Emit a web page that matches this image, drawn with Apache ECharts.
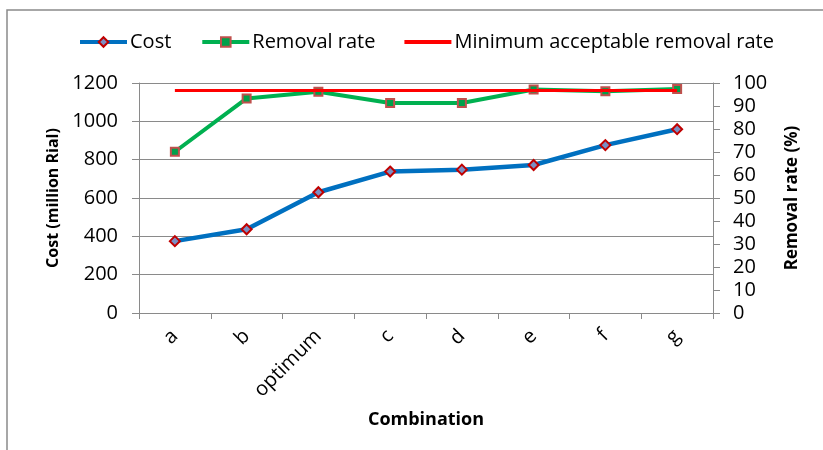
<!DOCTYPE html>
<html>
<head>
<meta charset="utf-8">
<script src="https://cdn.jsdelivr.net/npm/echarts@6/dist/echarts.min.js"></script>
<style>
  html, body { margin: 0; padding: 0; background: #fff; }
  #chart { width: 823px; height: 450px; }
</style>
</head>
<body>
<div id="chart"></div>
<script>
// Treatment combinations on the horizontal axis
const combinations = ['a', 'b', 'optimum', 'c', 'd', 'e', 'f', 'g'];
// Cost of each combination (million Rial)
const costValues = [375, 437, 630, 738, 748, 772, 876, 959];
// Achieved removal rate (%)
const removalValues = [70.1, 93.3, 96.2, 91.3, 91.3, 97.2, 96.4, 97.4];
// Minimum acceptable removal rate (%)
const minimumRate = [96.7, 96.7, 96.7, 96.7, 96.7, 96.7, 96.7, 96.7];
// Axis tick settings
const costAxis = { min: 0, max: 1200, interval: 200 };
const rateAxis = { min: 0, max: 100, interval: 10 };

const FONT = 'Open Sans';
const GRAY = '#8a8a8a';

const chart = echarts.init(document.getElementById('chart'), null, { renderer: 'canvas' });

chart.setOption({
  backgroundColor: '#ffffff',
  animation: false,
  textStyle: { fontFamily: FONT, color: '#000' },
  graphic: [{
    type: 'rect',
    shape: { x: 7, y: 10, width: 900, height: 500 },
    style: { fill: 'none', stroke: GRAY, lineWidth: 1.5 },
    silent: true
  }],
  legend: {
    left: 73,
    top: 27,
    itemWidth: 47,
    itemHeight: 12,
    itemGap: 29,
    lineStyle: { width: 4 },
    textStyle: { fontFamily: FONT, fontSize: 20, color: '#000', padding: [0, 0, 0, -2] },
    data: [
      'Cost',
      'Removal rate',
      { name: 'Minimum acceptable removal rate', icon: 'path://M0 0H47V4H0Z' }
    ]
  },
  grid: { left: 139, right: 110, top: 83, bottom: 137 },
  xAxis: {
    type: 'category',
    data: combinations,
    boundaryGap: true,
    name: 'Combination',
    nameLocation: 'middle',
    nameGap: 98,
    nameTextStyle: { fontFamily: FONT, fontSize: 18, fontWeight: 'bold', color: '#000' },
    axisLine: { lineStyle: { color: GRAY, width: 1 } },
    axisTick: { show: true, length: 6, lineStyle: { color: GRAY } },
    axisLabel: { rotate: 45, fontSize: 20, color: '#000', fontFamily: FONT, margin: 20 }
  },
  yAxis: [{
    type: 'value',
    min: costAxis.min, max: costAxis.max, interval: costAxis.interval,
    name: 'Cost (million Rial)',
    nameLocation: 'middle',
    nameGap: 78,
    nameRotate: 90,
    nameTextStyle: { fontFamily: FONT, fontSize: 16, fontWeight: 'bold', color: '#000' },
    axisLine: { show: true, lineStyle: { color: GRAY, width: 1 } },
    axisTick: { show: true, length: 7, lineStyle: { color: GRAY } },
    axisLabel: { fontSize: 20, color: '#000', fontFamily: FONT, margin: 21, formatter: v => String(v) },
    splitLine: { show: true, lineStyle: { color: GRAY, width: 1 } }
  }, {
    type: 'value',
    position: 'right',
    min: rateAxis.min, max: rateAxis.max, interval: rateAxis.interval,
    name: 'Removal rate (%)',
    nameLocation: 'middle',
    nameGap: 71,
    nameRotate: 90,
    nameTextStyle: { fontFamily: FONT, fontSize: 17, fontWeight: 'bold', color: '#000' },
    axisLine: { show: true, lineStyle: { color: GRAY, width: 1 } },
    axisTick: { show: true, length: 7, lineStyle: { color: GRAY } },
    axisLabel: { fontSize: 20, color: '#000', fontFamily: FONT, margin: 20, formatter: v => String(v) },
    splitLine: { show: false }
  }],
  series: [{
    name: 'Cost',
    type: 'line',
    yAxisIndex: 0,
    data: costValues,
    symbol: 'diamond',
    symbolSize: 10,
    lineStyle: { color: '#0070c0', width: 4.5 },
    itemStyle: { color: '#7b8fc4', borderColor: '#c00000', borderWidth: 2 },
    z: 3
  }, {
    name: 'Removal rate',
    type: 'line',
    yAxisIndex: 1,
    data: removalValues,
    symbol: 'rect',
    symbolSize: 8,
    lineStyle: { color: '#00b050', width: 4 },
    itemStyle: { color: '#00a04a', borderColor: '#c0504d', borderWidth: 2 },
    z: 4
  }, {
    name: 'Minimum acceptable removal rate',
    type: 'line',
    yAxisIndex: 1,
    data: minimumRate,
    symbol: 'none',
    lineStyle: { color: '#ff0000', width: 3 },
    itemStyle: { color: '#ff0000' },
    z: 5
  }]
});
</script>
</body>
</html>
